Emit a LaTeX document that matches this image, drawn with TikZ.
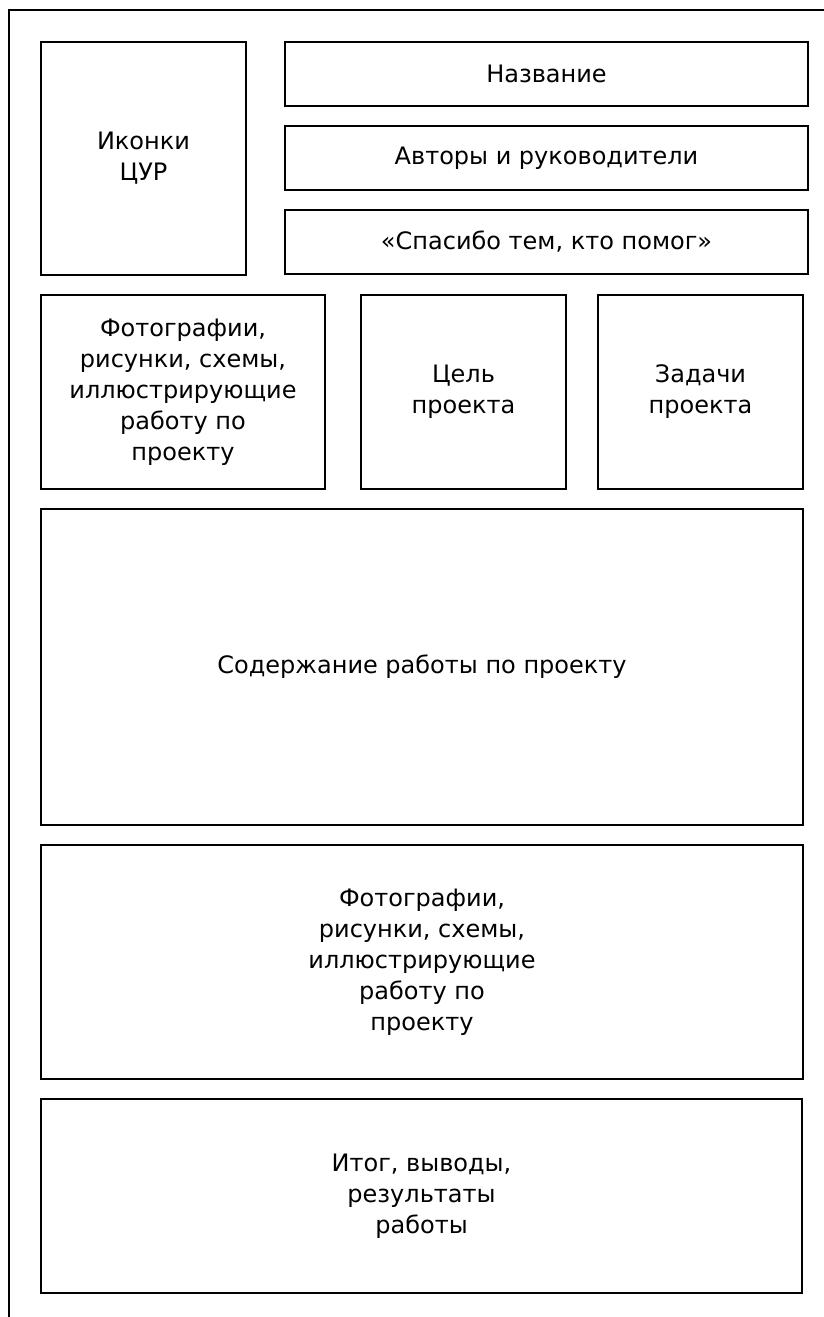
\documentclass[tikz,border=0pt]{standalone}
\usepackage{fontspec}
\setmainfont{DejaVu Sans}
\usetikzlibrary{positioning}

\begin{document}
\begin{tikzpicture}[x=1pt,y=-1pt,node distance = 20pt,line width=1.6pt]
\tikzstyle{blk}=[draw, anchor=north west, inner sep=0pt, outer sep=0pt, align=center,
  font=\fontsize{24}{31}\selectfont]
\useasboundingbox (0,0) rectangle (823,1317);
% outer frame
\coordinate (FL) at (9,1317);
\coordinate (FT) at (9,10);
\coordinate (FR) at (830,10);
\draw (FL) -- (FT) -- (FR);

\node[blk, minimum width=205pt, minimum height=233pt]	(icons)	at (41,42)	{Иконки\\ЦУР};
\node[blk, minimum width=523pt, minimum height=64pt]	(title)	at (285,42)	{Название};
\node[blk, minimum width=523pt, minimum height=64pt]	(authors)	[below = of title.south west, anchor=north west]	{Авторы и руководители};
\node[blk, minimum width=523pt, minimum height=64pt]	(thanks)	[below = of authors.south west, anchor=north west]	{«Спасибо тем, кто помог»};

\node[blk, minimum width=284pt, minimum height=194pt]	(photoA)	at (41,295)	{Фотографии,\\рисунки, схемы,\\иллюстрирующие\\работу по\\проекту};
\node[blk, minimum width=205pt, minimum height=194pt]	(goal)	at (361,295)	{Цель\\проекта};
\node[blk, minimum width=205pt, minimum height=194pt]	(tasks)	at (598,295)	{Задачи\\проекта};

\node[blk, minimum width=762pt, minimum height=316pt]	(content)	[below = of photoA.south west, anchor=north west]	{Содержание работы по проекту};
\node[blk, minimum width=762pt, minimum height=234pt]	(photoB)	[below = of content.south west, anchor=north west]	{Фотографии,\\рисунки, схемы,\\иллюстрирующие\\работу по\\проекту};
\node[blk, minimum width=761pt, minimum height=194pt]	(result)	[below = of photoB.south west, anchor=north west]	{Итог, выводы,\\результаты\\работы};
\end{tikzpicture}
\end{document}
